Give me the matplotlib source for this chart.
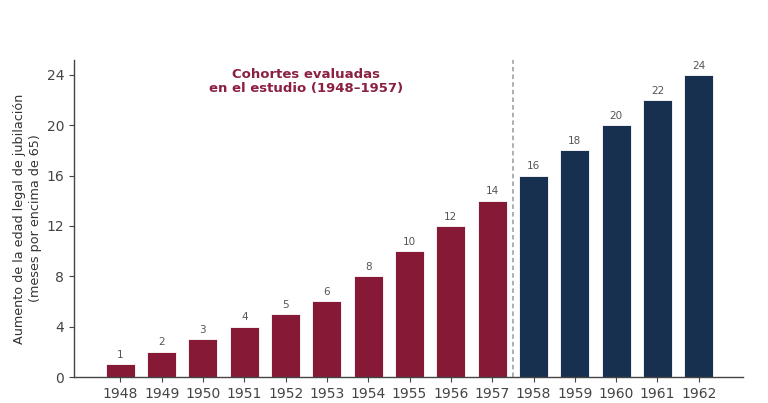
import matplotlib
matplotlib.use("Agg")
import matplotlib.pyplot as plt

years = ["1948", "1949", "1950", "1951", "1952", "1953", "1954", "1955",
         "1956", "1957", "1958", "1959", "1960", "1961", "1962"]
months = [1, 2, 3, 4, 5, 6, 8, 10, 12, 14, 16, 18, 20, 22, 24]
evaluated = [True] * 10 + [False] * 5
yticks = [0, 4, 8, 12, 16, 20, 24]

maroon = "#861a36"
navy = "#173050"

fig = plt.figure(figsize=(7.68, 4.03), dpi=100)
ax = fig.add_axes([0.0964, 0.0645, 0.8716, 0.787])

x = list(range(len(years)))
colors = [maroon if e else navy for e in evaluated]
ax.bar(x, months, width=0.7, color=colors, edgecolor="white", linewidth=0.6)

for xi, v in zip(x, months):
    ax.text(xi, v + 0.35, str(v), ha="center", va="bottom", fontsize=7.5, color="#555555")

ax.axvline(9.5, color="#999999", linestyle=(0, (3, 2)), linewidth=1.1)
ax.text(4.5, 23.45, "Cohortes evaluadas\nen el estudio (1948–1957)", ha="center", va="center",
        fontsize=9.5, fontweight="bold", color="#8b2040", linespacing=1.1)

ax.set_xticks(x)
ax.set_xticklabels(years, fontsize=10, color="#222222")
ax.set_yticks(yticks)
ax.set_yticklabels([str(t) for t in yticks], fontsize=10, color="#222222")
ax.set_xlim(-1.12, 15.08)
ax.set_ylim(0, 25.2)
ax.set_ylabel("Aumento de la edad legal de jubilación\n(meses por encima de 65)", fontsize=9.2,
              color="#333333", labelpad=3, linespacing=1.3)

for s in ["top", "right"]:
    ax.spines[s].set_visible(False)
for s in ["left", "bottom"]:
    ax.spines[s].set_color("#444444")
    ax.spines[s].set_linewidth(1.0)
ax.tick_params(colors="#444444", length=3.5)

fig.savefig("out.png", dpi=100)
